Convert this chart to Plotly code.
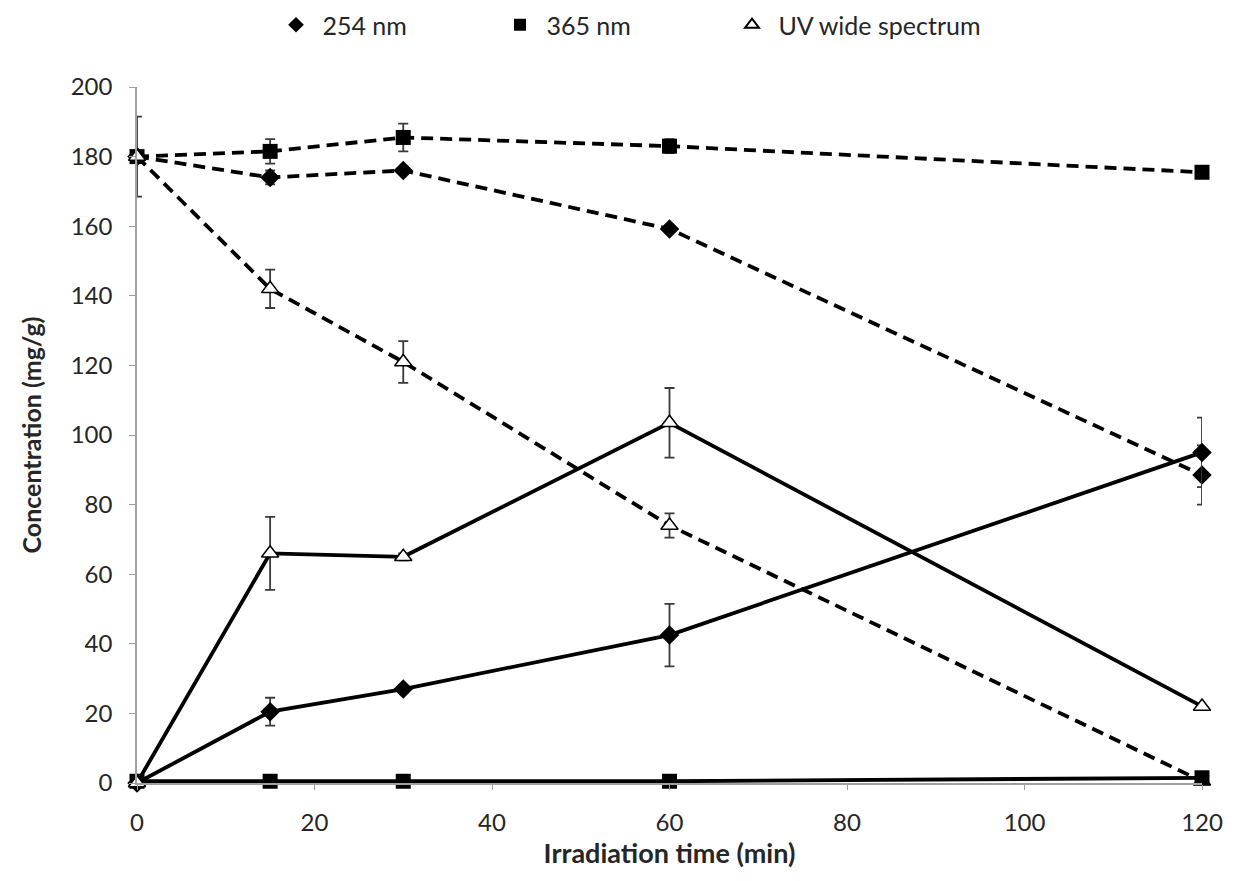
import plotly.graph_objects as go

time = [0, 15, 30, 60, 120]

# 254 nm
c254_decay = [180, 174, 176, 159.2, 88.5]
c254_decay_err = [0, 2, 1, 1, 8.5]
c254_form = [0, 20.5, 27, 42.5, 95]
c254_form_err = [0, 4, 1, 9, 10]

# 365 nm
c365_decay = [180, 181.5, 185.5, 183, 175.5]
c365_decay_err = [0, 3.5, 4, 2, 1]
c365_form = [0.5, 0.5, 0.5, 0.5, 1.5]
c365_form_err = [0, 0, 0, 0, 0]

# UV wide spectrum
uv_decay = [180, 142, 121, 74, 0.5]
uv_decay_err = [11.5, 5.5, 6, 3.5, 0]
uv_form = [0, 66, 65, 103.5, 22]
uv_form_err = [0, 10.5, 1, 10, 0]

series_names = ["254 nm", "365 nm", "UV wide spectrum"]
x_ticks = [0, 20, 40, 60, 80, 100, 120]
y_ticks = [0, 20, 40, 60, 80, 100, 120, 140, 160, 180, 200]

fig = go.Figure()

def err(arr):
    return dict(type="data", array=arr, visible=True, color="#3a3a3a", thickness=1.8, width=5)

def add(y, e, dash, marker):
    fig.add_trace(go.Scatter(
        x=time, y=y, mode="lines+markers", showlegend=False,
        line=dict(color="black", width=3.8, dash=dash),
        marker=marker, error_y=err(e), cliponaxis=False))

m254 = dict(symbol="diamond", size=15, color="black")
m365 = dict(symbol="square", size=15, color="black")
muv = dict(symbol="triangle-up", size=15, color="white", line=dict(color="black", width=1.5))

dash = "12px,7px"
add(c365_decay, c365_decay_err, dash, m365)
add(c254_decay, c254_decay_err, dash, m254)
add(uv_decay, uv_decay_err, dash, muv)
add(c365_form, c365_form_err, "solid", m365)
add(c254_form, c254_form_err, "solid", m254)
add(uv_form, uv_form_err, "solid", muv)

# legend entries (markers only), one legend per entry for exact placement
leg_markers = [
    dict(symbol="diamond", size=11, color="black"),
    dict(symbol="square", size=11, color="black"),
    dict(symbol="triangle-up", size=10, color="white", line=dict(color="black", width=1.5)),
]
leg_ids = ["legend", "legend2", "legend3"]
for name, mk, lid in zip(series_names, leg_markers, leg_ids):
    fig.add_trace(go.Scatter(x=[None], y=[None], mode="markers", name="\u00a0" + name,
                             marker=mk, legend=lid))

font_family = "Lato, 'Open Sans', sans-serif"
leg_left = [268, 492, 724]
leg_common = dict(orientation="h", xanchor="left", xref="container", yref="container",
                  y=1 - 17 / 881, yanchor="middle", font=dict(size=25),
                  itemsizing="constant", bgcolor="rgba(0,0,0,0)")

fig.update_layout(
    width=1237, height=881,
    paper_bgcolor="white", plot_bgcolor="white",
    margin=dict(l=129, r=43, t=79, b=106),
    font=dict(family=font_family, size=24, color="#262626"),
    legend=dict(x=leg_left[0] / 1237, **leg_common),
    legend2=dict(x=leg_left[1] / 1237, **leg_common),
    legend3=dict(x=leg_left[2] / 1237, **leg_common),
    xaxis=dict(range=[0, 120], tickvals=x_ticks, showgrid=False, zeroline=False,
               showline=True, linecolor="#a0a0a0", linewidth=1.5,
               ticks="outside", ticklen=5, tickcolor="#a0a0a0", ticklabelstandoff=12,
               title=dict(text="<b>Irradiation time (min)</b>", font=dict(size=27), standoff=8)),
    yaxis=dict(range=[0, 200], tickvals=y_ticks, showgrid=False, zeroline=False,
               showline=True, linecolor="#a0a0a0", linewidth=1.5,
               ticks="outside", ticklen=6, tickcolor="#a0a0a0", ticklabelstandoff=12,
               title=dict(text="<b>Concentration (mg/g)</b>", font=dict(size=25), standoff=22)),
)

fig.write_html("out.html")
